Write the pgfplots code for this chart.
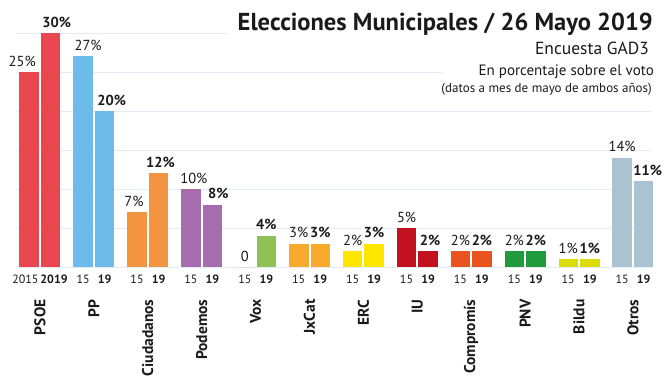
\documentclass[border=0pt]{standalone}
\usepackage{pgfplots}
\pgfplotsset{compat=1.18}
\usepackage{fontspec}
\setmainfont{PT Sans}
\definecolor{txt}{HTML}{1A1A1A}
\definecolor{gridc}{HTML}{E3EDF2}
\definecolor{cPSOE}{HTML}{E9474F}
\definecolor{cPP}{HTML}{6DBBEA}
\definecolor{cCs}{HTML}{F39441}
\definecolor{cPod}{HTML}{A56DAE}
\definecolor{cVox}{HTML}{8DC153}
\definecolor{cJx}{HTML}{F8AA2F}
\definecolor{cERC}{HTML}{FFE600}
\definecolor{cIU}{HTML}{C2121F}
\definecolor{cCom}{HTML}{E9531F}
\definecolor{cPNV}{HTML}{1F9A3C}
\definecolor{cBil}{HTML}{DCDC0A}
\definecolor{cOt}{HTML}{A9C3D1}
\newcommand{\px}[1]{\fontsize{#1bp}{#1bp}\selectfont}
\pgfplotsset{
  b15/.style={ybar, draw=none, bar width=19.5bp, bar shift=-10.75bp, fill=#1,
    nodes near coords, point meta=explicit symbolic,
    every node near coord/.append style={font=\px{14.5}, text=txt, inner sep=0pt, anchor=base, yshift=6bp, xshift=-10.75bp}},
  b19/.style={ybar, draw=none, bar width=19.5bp, bar shift=10.75bp, fill=#1,
    nodes near coords, point meta=explicit symbolic,
    every node near coord/.append style={font=\px{14.5}\bfseries, text=txt, inner sep=0pt, anchor=base, yshift=6bp, xshift=10.75bp}},
  gl/.style={gridc, line width=0.8bp, forget plot},
}
\begin{document}
\begin{tikzpicture}
\useasboundingbox (0bp,0bp) rectangle (670bp,377bp);
\begin{axis}[
  at={(16bp,110bp)}, anchor=south west, scale only axis,
  width=636bp, height=234bp,
  xmin=-0.445, xmax=11.354, ymin=0, ymax=30,
  clip=false,
  axis line style={draw=none},
  ytick=\empty,
  major tick length=0pt,
  xtick={-0.27,0.26,0.8,1.2,1.8,2.2,2.8,3.2,3.8,4.2,4.8,5.2,5.8,6.2,6.8,7.2,7.8,8.2,8.8,9.2,9.8,10.2,10.8,11.2},
  xticklabels={2015,\textbf{2019},15,\textbf{19},15,\textbf{19},15,\textbf{19},15,\textbf{19},15,\textbf{19},15,\textbf{19},15,\textbf{19},15,\textbf{19},15,\textbf{19},15,\textbf{19},15,\textbf{19}},
  xticklabel style={font=\px{12}, text=txt, anchor=base, yshift=-16bp},
  extra x ticks={0,1,2,3,4,5,6,7,8,9,10,11},
  extra x tick labels={PSOE,PP,Ciudadanos,Podemos,Vox,JxCat,ERC,IU,Compromís,PNV,Bildu,Otros},
  extra x tick style={xticklabel style={font=\px{15.5}\bfseries, yshift=-13bp, rotate=90, anchor=east}},
]
% gridlines
\addplot[gl] coordinates {(-0.445,0) (11.354,0)};
\addplot[gl] coordinates {(-0.445,5) (11.354,5)};
\addplot[gl] coordinates {(-0.445,10) (11.354,10)};
\addplot[gl] coordinates {(-0.445,15) (11.354,15)};
\addplot[gl] coordinates {(-0.445,20) (11.354,20)};
\addplot[gl] coordinates {(-0.445,25) (7.48,25)};
\addplot[gl] coordinates {(-0.445,30) (3.49,30)};
% bars
\addplot[b15=cPSOE, every node near coord/.append style={xshift=-7bp}] coordinates {(0,25) [25\%]};
\addplot[b19=cPSOE, every node near coord/.append style={xshift=6bp}] coordinates {(0,30) [30\%]};
\addplot[b15=cPP, every node near coord/.append style={xshift=5bp}] coordinates {(1,27) [27\%]};
\addplot[b19=cPP, every node near coord/.append style={xshift=7bp}] coordinates {(1,20) [20\%]};
\addplot[b15=cCs, every node near coord/.append style={xshift=-3bp}] coordinates {(2,7) [7\%]};
\addplot[b19=cCs, every node near coord/.append style={xshift=2bp}] coordinates {(2,12) [12\%]};
\addplot[b15=cPod, every node near coord/.append style={xshift=3bp}] coordinates {(3,10) [10\%]};
\addplot[b19=cPod, every node near coord/.append style={xshift=6bp}] coordinates {(3,8) [8\%]};
\addplot[b15=cVox] coordinates {(4,0) [0]};
\addplot[b19=cVox] coordinates {(4,4) [4\%]};
\addplot[b15=cJx] coordinates {(5,3) [3\%]};
\addplot[b19=cJx] coordinates {(5,3) [3\%]};
\addplot[b15=cERC] coordinates {(6,2) [2\%]};
\addplot[b19=cERC] coordinates {(6,3) [3\%]};
\addplot[b15=cIU] coordinates {(7,5) [5\%]};
\addplot[b19=cIU, every node near coord/.append style={xshift=2bp}] coordinates {(7,2) [2\%]};
\addplot[b15=cCom] coordinates {(8,2) [2\%]};
\addplot[b19=cCom] coordinates {(8,2) [2\%]};
\addplot[b15=cPNV] coordinates {(9,2) [2\%]};
\addplot[b19=cPNV] coordinates {(9,2) [2\%]};
\addplot[b15=cBil] coordinates {(10,1) [1\%]};
\addplot[b19=cBil] coordinates {(10,1) [1\%]};
\addplot[b15=cOt] coordinates {(11,14) [14\%]};
\addplot[b19=cOt, every node near coord/.append style={xshift=4bp}] coordinates {(11,11) [11\%]};
\end{axis}
\node[anchor=base east, font=\px{24.5}\bfseries, text=txt, inner sep=0pt] at (653bp,346bp) {Elecciones Municipales / 26 Mayo 2019};
\node[anchor=base east, font=\px{17.5}, text=txt, inner sep=0pt] at (649bp,322bp) {Encuesta GAD3};
\node[anchor=base east, font=\px{15}, text=txt, inner sep=0pt] at (654bp,301bp) {En porcentaje sobre el voto};
\node[anchor=base east, font=\px{13}, text=txt, inner sep=0pt] at (652bp,284bp) {(datos a mes de mayo de ambos años)};
\end{tikzpicture}
\end{document}
